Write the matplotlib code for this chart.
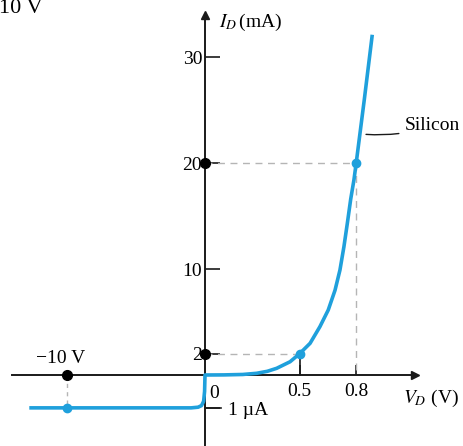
import numpy as np
import matplotlib.pyplot as plt

plt.rcParams['font.family'] = ['Liberation Serif', 'DejaVu Serif']
plt.rcParams['mathtext.fontset'] = 'stix'

# courbe de la diode silicium (V en volts, I en mA)
rev_v = [-12.7, -10.0, -5.0, -1.0, -0.5, -0.25, -0.1, -0.03, 0.0]
rev_i = [-0.001, -0.001, -0.001, -0.001, -0.00098, -0.00093, -0.0008, -0.0005, 0.0]
fwd_v = [0.1, 0.2, 0.273, 0.33, 0.379, 0.45, 0.5, 0.556, 0.608, 0.652, 0.688, 0.714,
         0.735, 0.753, 0.771, 0.788, 0.80, 0.843, 0.885]
fwd_i = [0.01, 0.05, 0.16, 0.35, 0.63, 1.25, 2.0, 2.99, 4.56, 6.13, 8.0, 9.9,
         12.1, 14.3, 16.6, 18.4, 20.0, 26.0, 32.1]

# points remarquables
pts_v = [0.5, 0.8, -10.0]
pts_i = [2.0, 20.0, -0.001]

y_ticks = [-0.001, 2, 10, 20, 30]
y_labels = ['', '2', '10', '20', '30']
x_ticks = [0.5, 0.8]
x_labels = ['0.5', '0.8']

bleu = '#1fa0dc'
noir = '#1a1a1a'
gris = '#b5b5b5'
fs = 14

# echelles comprimees cote negatif
kx = 0.0732
ky = 3100.0

def fx(v):
    v = np.asarray(v, float)
    return np.where(v < 0, v * kx, v)

def fx_inv(t):
    t = np.asarray(t, float)
    return np.where(t < 0, t / kx, t)

def fy(i):
    i = np.asarray(i, float)
    return np.where(i < 0, i * ky, i)

def fy_inv(t):
    t = np.asarray(t, float)
    return np.where(t < 0, t / ky, t)

fig = plt.figure(figsize=(4.63, 4.46), dpi=100)
ax = fig.add_axes([0, 0, 1, 1])
ax.set_xscale('function', functions=(fx, fx_inv))
ax.set_yscale('function', functions=(fy, fy_inv))
ax.set_xlim(float(fx_inv(-205 / 189)), float(fx_inv(258 / 189)))
ax.set_ylim(float(fy_inv(-71 / 10.6)), float(fy_inv(375 / 10.6)))

for s in ['top', 'right']:
    ax.spines[s].set_visible(False)
ax.spines['left'].set_position(('data', 0))
ax.spines['bottom'].set_position(('data', 0))
ax.spines['left'].set_bounds(ax.get_ylim()[0], 34.0)
ax.spines['bottom'].set_bounds(-13.95, 1.11)
ax.spines['left'].set_linewidth(1.4)
ax.spines['bottom'].set_linewidth(1.4)
ax.spines['left'].set_color(noir)
ax.spines['bottom'].set_color(noir)
ax.plot(0, 34.0, '^', color=noir, ms=6, clip_on=False)
ax.plot(1.11, 0, '>', color=noir, ms=6, clip_on=False)

ax.set_yticks(y_ticks)
ax.set_yticklabels(y_labels)
ax.set_xticks(x_ticks)
ax.set_xticklabels(x_labels)
ax.tick_params(axis='y', direction='in', length=11, width=1.2, color=noir, pad=2, labelsize=fs)
ax.tick_params(axis='x', direction='in', length=7, width=1.2, color=noir, pad=6, labelsize=fs)
ax.minorticks_off()

# lignes pointillees
ax.plot([0, 0.8], [20, 20], ls=(0, (5, 4)), color=gris, lw=1)
ax.plot([0.8, 0.8], [20, 0], ls=(0, (5, 4)), color=gris, lw=1)
ax.plot([0, 0.5], [2, 2], ls=(0, (5, 4)), color=gris, lw=1)
ax.plot([-10, -10], [0, -0.001], ls=(0, (3, 3)), color=gris, lw=1)
ax.plot([0.5, 0.5], [0, 2], color=noir, lw=1.2)

# courbe
ax.plot(rev_v + fwd_v, rev_i + fwd_i, color=bleu, lw=2.6, solid_capstyle='butt',
        solid_joinstyle='round', zorder=3)
ax.plot(pts_v, pts_i, 'o', color=bleu, ms=6, zorder=4)
ax.plot([0, 0, -10], [20, 2, 0], 'o', color='black', ms=7, zorder=4)

# textes
ax.text(0.075, 33.3, r'$I_D\,$(mA)', fontsize=fs, va='center', ha='left')
ax.text(1.05, -0.00072, r'$V_D$ (V)', fontsize=fs, va='center', ha='left')
ax.text(0.025, -0.00055, '0', fontsize=fs, va='center', ha='left')
ax.plot([0, 0.085], [-0.001, -0.001], color=noir, lw=1.2)
ax.text(0.12, -0.00107, '1 µA', fontsize=fs, va='center', ha='left')
ax.text(-10.4, 1.6, '\u221210 V', fontsize=fs, va='center', ha='center')
ax.annotate('Silicon', xy=(0.852, 22.7), xytext=(1.055, 23.5), fontsize=fs, va='center',
            arrowprops=dict(arrowstyle='-', color=noir, lw=1, shrinkA=2, shrinkB=0,
                            connectionstyle='arc3,rad=-0.1'))
fig.text(-0.002, 1 - 13 / 446, '10 V', fontsize=16, va='baseline', ha='left')

plt.savefig('out.png', dpi=100)
